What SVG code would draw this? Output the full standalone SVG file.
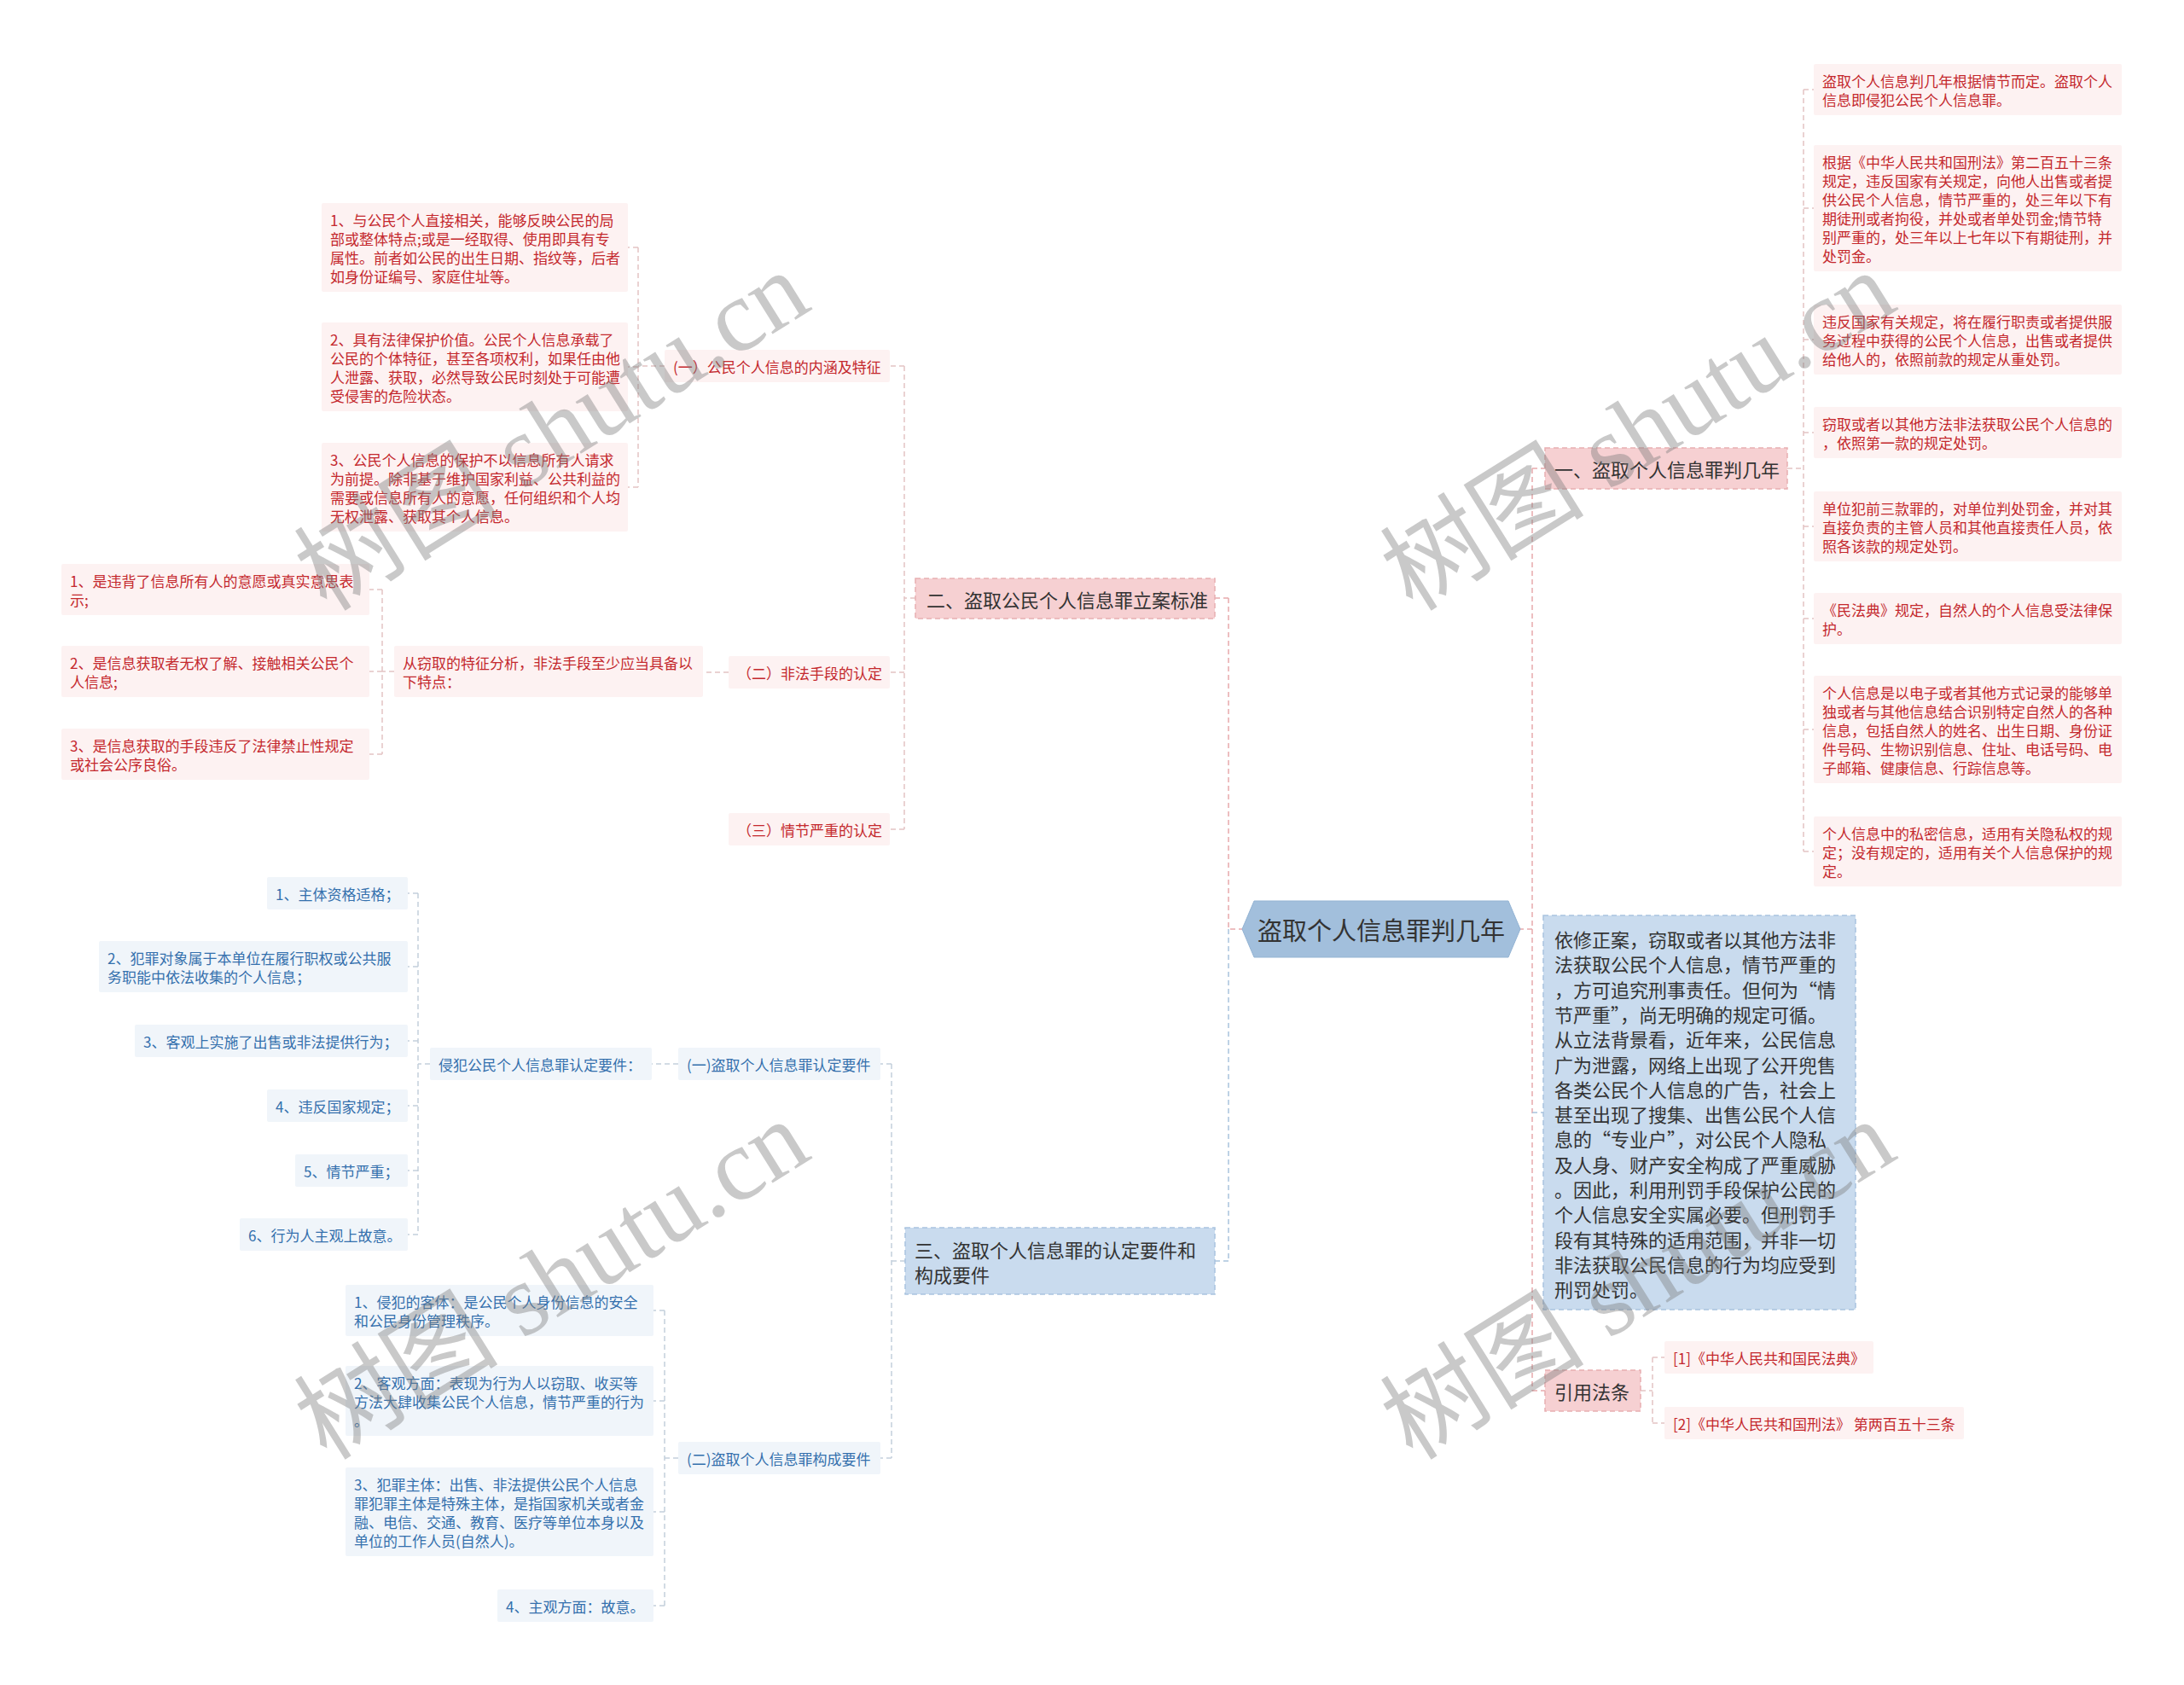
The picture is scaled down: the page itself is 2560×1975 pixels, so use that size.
<svg xmlns="http://www.w3.org/2000/svg" width="2560" height="1975" viewBox="0 0 2560 1975">
<style>
text{font-family:"Noto Sans CJK SC","Noto Sans",sans-serif;dominant-baseline:central}
.pl{fill:#fdf2f2}
.bl{fill:#f0f5fa}
.pt{fill:#c4282d;font-size:17px}
.bt{fill:#3470ad;font-size:17px}
.pb{fill:#f6d0d2;stroke:#e8aeb1;stroke-width:1.5;stroke-dasharray:6 4}
.bb{fill:#c9dbee;stroke:#a9c4df;stroke-width:1.5;stroke-dasharray:6 4}
.ht{fill:#333;font-size:22px}
.cp{fill:none;stroke:#e7a9ac;stroke-width:1.5;stroke-dasharray:6 4}
.cb{fill:none;stroke:#a9c3dd;stroke-width:1.5;stroke-dasharray:6 4}
.sp{fill:none;stroke:#e3c3c4;stroke-width:1.5;stroke-dasharray:6 4}
.sb{fill:none;stroke:#c3cfdb;stroke-width:1.5;stroke-dasharray:6 4}
.wm{font-family:"Liberation Serif","Noto Sans CJK SC",serif;font-size:120px;fill:#7f7f7f;opacity:0.42;dominant-baseline:alphabetic}
</style>
<rect width="2560" height="1975" fill="#fff"/>
<g id="connectors">
<path class="cp" d="M1780,1089H1796M1796,549V1630M1796,549H1811M1796,1630H1811"/>
<path class="cb" d="M1796,1304H1809"/>
<path class="cp" d="M1458,1089H1440M1440,701V1089M1440,701H1424"/>
<path class="cb" d="M1440,1089V1478M1440,1478H1424"/>
<path class="sp" d="M2095,549H2114M2114,105V998M2114,105H2126M2114,244H2126M2114,398H2126M2114,507H2126M2114,617H2126M2114,725H2126M2114,855H2126M2114,998H2126"/>
<path class="sp" d="M1073,701H1060M1060,429V972M1060,429H1043M1060,788H1043M1060,972H1043"/>
<path class="sp" d="M779,429H748M748,290V571M748,290H736M748,430H736M748,571H736"/>
<path class="sp" d="M854,788H824"/>
<path class="sp" d="M462,787H448M448,691V884M448,691H433M448,787H433M448,884H433"/>
<path class="sb" d="M1061,1478H1045M1045,1247V1709M1045,1247H1032M1045,1709H1032"/>
<path class="sb" d="M795,1247H764"/>
<path class="sb" d="M504,1247H490M490,1047V1447M490,1047H478M490,1133H478M490,1220H478M490,1296H478M490,1372H478M490,1447H478"/>
<path class="sb" d="M795,1709H779M779,1536V1882M779,1536H766M779,1642H766M779,1772H766M779,1882H766"/>
<path class="sp" d="M1923,1630H1937M1937,1591V1668M1937,1591H1951M1937,1668H1951"/>
</g>
<g id="root">
<polygon points="1456,1089 1470,1056 1768,1056 1782,1089 1768,1122 1470,1122" fill="#a2bfdc" stroke="#93b3d3" stroke-width="1"/>
<text x="1619" y="1089" text-anchor="middle" style="font-size:29px;fill:#333">盗取个人信息罪判几年</text>
</g>
<g id="n1">
<rect class="pb" x="1811" y="525" width="284" height="48"/>
<text class="ht" x="1822" y="549">一、盗取个人信息罪判几年</text>
</g>
<g id="n1a"><rect class="pl" x="2126" y="75" width="361" height="60" rx="2"/>
<text class="pt"><tspan x="2136" y="94">盗取个人信息判几年根据情节而定。盗取个人</tspan><tspan x="2136" y="116">信息即侵犯公民个人信息罪。</tspan></text></g>
<g id="n1b"><rect class="pl" x="2126" y="170" width="361" height="148" rx="2"/>
<text class="pt"><tspan x="2136" y="189">根据《中华人民共和国刑法》第二百五十三条</tspan><tspan x="2136" y="211">规定，违反国家有关规定，向他人出售或者提</tspan><tspan x="2136" y="233">供公民个人信息，情节严重的，处三年以下有</tspan><tspan x="2136" y="255">期徒刑或者拘役，并处或者单处罚金;情节特</tspan><tspan x="2136" y="277">别严重的，处三年以上七年以下有期徒刑，并</tspan><tspan x="2136" y="299">处罚金。</tspan></text></g>
<g id="n1c"><rect class="pl" x="2126" y="357" width="361" height="82" rx="2"/>
<text class="pt"><tspan x="2136" y="376">违反国家有关规定，将在履行职责或者提供服</tspan><tspan x="2136" y="398">务过程中获得的公民个人信息，出售或者提供</tspan><tspan x="2136" y="420">给他人的，依照前款的规定从重处罚。</tspan></text></g>
<g id="n1d"><rect class="pl" x="2126" y="477" width="361" height="60" rx="2"/>
<text class="pt"><tspan x="2136" y="496">窃取或者以其他方法非法获取公民个人信息的</tspan><tspan x="2136" y="518">，依照第一款的规定处罚。</tspan></text></g>
<g id="n1e"><rect class="pl" x="2126" y="576" width="361" height="82" rx="2"/>
<text class="pt"><tspan x="2136" y="595">单位犯前三款罪的，对单位判处罚金，并对其</tspan><tspan x="2136" y="617">直接负责的主管人员和其他直接责任人员，依</tspan><tspan x="2136" y="639">照各该款的规定处罚。</tspan></text></g>
<g id="n1f"><rect class="pl" x="2126" y="695" width="361" height="60" rx="2"/>
<text class="pt"><tspan x="2136" y="714">《民法典》规定，自然人的个人信息受法律保</tspan><tspan x="2136" y="736">护。</tspan></text></g>
<g id="n1g"><rect class="pl" x="2126" y="792" width="361" height="126" rx="2"/>
<text class="pt"><tspan x="2136" y="811">个人信息是以电子或者其他方式记录的能够单</tspan><tspan x="2136" y="833">独或者与其他信息结合识别特定自然人的各种</tspan><tspan x="2136" y="855">信息，包括自然人的姓名、出生日期、身份证</tspan><tspan x="2136" y="877">件号码、生物识别信息、住址、电话号码、电</tspan><tspan x="2136" y="899">子邮箱、健康信息、行踪信息等。</tspan></text></g>
<g id="n1h"><rect class="pl" x="2126" y="957" width="361" height="82" rx="2"/>
<text class="pt"><tspan x="2136" y="976">个人信息中的私密信息，适用有关隐私权的规</tspan><tspan x="2136" y="998">定；没有规定的，适用有关个人信息保护的规</tspan><tspan x="2136" y="1020">定。</tspan></text></g>
<g id="n2">
<rect class="bb" x="1809" y="1073" width="366" height="462"/>
<text class="ht"><tspan x="1822" y="1100">依修正案，窃取或者以其他方法非</tspan><tspan x="1822" y="1129.3">法获取公民个人信息，情节严重的</tspan><tspan x="1822" y="1158.6">，方可追究刑事责任。但何为“情</tspan><tspan x="1822" y="1187.9">节严重”，尚无明确的规定可循。</tspan><tspan x="1822" y="1217.2">从立法背景看，近年来，公民信息</tspan><tspan x="1822" y="1246.5">广为泄露，网络上出现了公开兜售</tspan><tspan x="1822" y="1275.8">各类公民个人信息的广告，社会上</tspan><tspan x="1822" y="1305.1">甚至出现了搜集、出售公民个人信</tspan><tspan x="1822" y="1334.4">息的“专业户”，对公民个人隐私</tspan><tspan x="1822" y="1363.7">及人身、财产安全构成了严重威胁</tspan><tspan x="1822" y="1393">。因此，利用刑罚手段保护公民的</tspan><tspan x="1822" y="1422.3">个人信息安全实属必要。但刑罚手</tspan><tspan x="1822" y="1451.6">段有其特殊的适用范围，并非一切</tspan><tspan x="1822" y="1480.9">非法获取公民信息的行为均应受到</tspan><tspan x="1822" y="1510.2">刑罚处罚。</tspan></text>
</g>
<g id="n3">
<rect class="pb" x="1811" y="1606" width="112" height="48"/>
<text class="ht" x="1822" y="1630">引用法条</text>
</g>
<g id="n3a"><rect class="pl" x="1951" y="1572" width="245" height="38" rx="2"/>
<text class="pt" x="1961" y="1591">[1]《中华人民共和国民法典》</text></g>
<g id="n3b"><rect class="pl" x="1951" y="1649" width="351" height="38" rx="2"/>
<text class="pt" x="1961" y="1668">[2]《中华人民共和国刑法》 第两百五十三条</text></g>
<g id="n4">
<rect class="pb" x="1073" y="678" width="351" height="47"/>
<text class="ht" x="1086" y="701.5">二、盗取公民个人信息罪立案标准</text>
</g>
<g id="n4a"><rect class="pl" x="779" y="410" width="264" height="38" rx="2"/>
<text class="pt" x="789" y="429">(一）公民个人信息的内涵及特征</text></g>
<g id="n4a1"><rect class="pl" x="377" y="238" width="359" height="104" rx="2"/>
<text class="pt"><tspan x="387" y="257">1、与公民个人直接相关，能够反映公民的局</tspan><tspan x="387" y="279">部或整体特点;或是一经取得、使用即具有专</tspan><tspan x="387" y="301">属性。前者如公民的出生日期、指纹等，后者</tspan><tspan x="387" y="323">如身份证编号、家庭住址等。</tspan></text></g>
<g id="n4a2"><rect class="pl" x="377" y="378" width="359" height="104" rx="2"/>
<text class="pt"><tspan x="387" y="397">2、具有法律保护价值。公民个人信息承载了</tspan><tspan x="387" y="419">公民的个体特征，甚至各项权利，如果任由他</tspan><tspan x="387" y="441">人泄露、获取，必然导致公民时刻处于可能遭</tspan><tspan x="387" y="463">受侵害的危险状态。</tspan></text></g>
<g id="n4a3"><rect class="pl" x="377" y="519" width="359" height="104" rx="2"/>
<text class="pt"><tspan x="387" y="538">3、公民个人信息的保护不以信息所有人请求</tspan><tspan x="387" y="560">为前提。除非基于维护国家利益、公共利益的</tspan><tspan x="387" y="582">需要或信息所有人的意愿，任何组织和个人均</tspan><tspan x="387" y="604">无权泄露、获取其个人信息。</tspan></text></g>
<g id="n4b"><rect class="pl" x="854" y="769" width="189" height="38" rx="2"/>
<text class="pt" x="864" y="788">（二）非法手段的认定</text></g>
<g id="n4b1"><rect class="pl" x="462" y="757" width="362" height="60" rx="2"/>
<text class="pt"><tspan x="472" y="776">从窃取的特征分析，非法手段至少应当具备以</tspan><tspan x="472" y="798">下特点：</tspan></text></g>
<g id="n4b1a"><rect class="pl" x="72" y="661" width="361" height="60" rx="2"/>
<text class="pt"><tspan x="82" y="680">1、是违背了信息所有人的意愿或真实意思表</tspan><tspan x="82" y="702">示;</tspan></text></g>
<g id="n4b1b"><rect class="pl" x="72" y="757" width="361" height="60" rx="2"/>
<text class="pt"><tspan x="82" y="776">2、是信息获取者无权了解、接触相关公民个</tspan><tspan x="82" y="798">人信息;</tspan></text></g>
<g id="n4b1c"><rect class="pl" x="72" y="854" width="361" height="60" rx="2"/>
<text class="pt"><tspan x="82" y="873">3、是信息获取的手段违反了法律禁止性规定</tspan><tspan x="82" y="895">或社会公序良俗。</tspan></text></g>
<g id="n4c"><rect class="pl" x="854" y="953" width="189" height="38" rx="2"/>
<text class="pt" x="864" y="972">（三）情节严重的认定</text></g>
<g id="n5">
<rect class="bb" x="1061" y="1439" width="363" height="78"/>
<text class="ht"><tspan x="1072" y="1463.5">三、盗取个人信息罪的认定要件和</tspan><tspan x="1072" y="1492.5">构成要件</tspan></text>
</g>
<g id="n5a"><rect class="bl" x="795" y="1228" width="237" height="38" rx="2"/>
<text class="bt" x="805" y="1247">(一)盗取个人信息罪认定要件</text></g>
<g id="n5a1"><rect class="bl" x="504" y="1228" width="260" height="38" rx="2"/>
<text class="bt" x="514" y="1247">侵犯公民个人信息罪认定要件：</text></g>
<g id="n5a1a"><rect class="bl" x="313" y="1028" width="165" height="38" rx="2"/>
<text class="bt" x="323" y="1047">1、主体资格适格；</text></g>
<g id="n5a1b"><rect class="bl" x="116" y="1103" width="362" height="60" rx="2"/>
<text class="bt"><tspan x="126" y="1122">2、犯罪对象属于本单位在履行职权或公共服</tspan><tspan x="126" y="1144">务职能中依法收集的个人信息；</tspan></text></g>
<g id="n5a1c"><rect class="bl" x="158" y="1201" width="320" height="38" rx="2"/>
<text class="bt" x="168" y="1220">3、客观上实施了出售或非法提供行为；</text></g>
<g id="n5a1d"><rect class="bl" x="313" y="1277" width="165" height="38" rx="2"/>
<text class="bt" x="323" y="1296">4、违反国家规定；</text></g>
<g id="n5a1e"><rect class="bl" x="346" y="1353" width="132" height="38" rx="2"/>
<text class="bt" x="356" y="1372">5、情节严重；</text></g>
<g id="n5a1f"><rect class="bl" x="281" y="1428" width="197" height="38" rx="2"/>
<text class="bt" x="291" y="1447">6、行为人主观上故意。</text></g>
<g id="n5b"><rect class="bl" x="795" y="1690" width="237" height="38" rx="2"/>
<text class="bt" x="805" y="1709">(二)盗取个人信息罪构成要件</text></g>
<g id="n5b1"><rect class="bl" x="405" y="1506" width="361" height="60" rx="2"/>
<text class="bt"><tspan x="415" y="1525">1、侵犯的客体：是公民个人身份信息的安全</tspan><tspan x="415" y="1547">和公民身份管理秩序。</tspan></text></g>
<g id="n5b2"><rect class="bl" x="405" y="1601" width="361" height="82" rx="2"/>
<text class="bt"><tspan x="415" y="1620">2、客观方面：表现为行为人以窃取、收买等</tspan><tspan x="415" y="1642">方法大肆收集公民个人信息，情节严重的行为</tspan><tspan x="415" y="1664">。</tspan></text></g>
<g id="n5b3"><rect class="bl" x="405" y="1720" width="361" height="104" rx="2"/>
<text class="bt"><tspan x="415" y="1739">3、犯罪主体：出售、非法提供公民个人信息</tspan><tspan x="415" y="1761">罪犯罪主体是特殊主体，是指国家机关或者金</tspan><tspan x="415" y="1783">融、电信、交通、教育、医疗等单位本身以及</tspan><tspan x="415" y="1805">单位的工作人员(自然人)。</tspan></text></g>
<g id="n5b4"><rect class="bl" x="583" y="1863" width="183" height="38" rx="2"/>
<text class="bt" x="593" y="1882">4、主观方面：故意。</text></g>
<g id="watermarks">
<text class="wm" x="650" y="545" text-anchor="middle" transform="rotate(-32 650 510)">树图 shutu.cn</text>
<text class="wm" x="650" y="1540" text-anchor="middle" transform="rotate(-32 650 1505)">树图 shutu.cn</text>
<text class="wm" x="1923" y="545" text-anchor="middle" transform="rotate(-32 1923 510)">树图 shutu.cn</text>
<text class="wm" x="1923" y="1540" text-anchor="middle" transform="rotate(-32 1923 1505)">树图 shutu.cn</text>
</g>
</svg>
